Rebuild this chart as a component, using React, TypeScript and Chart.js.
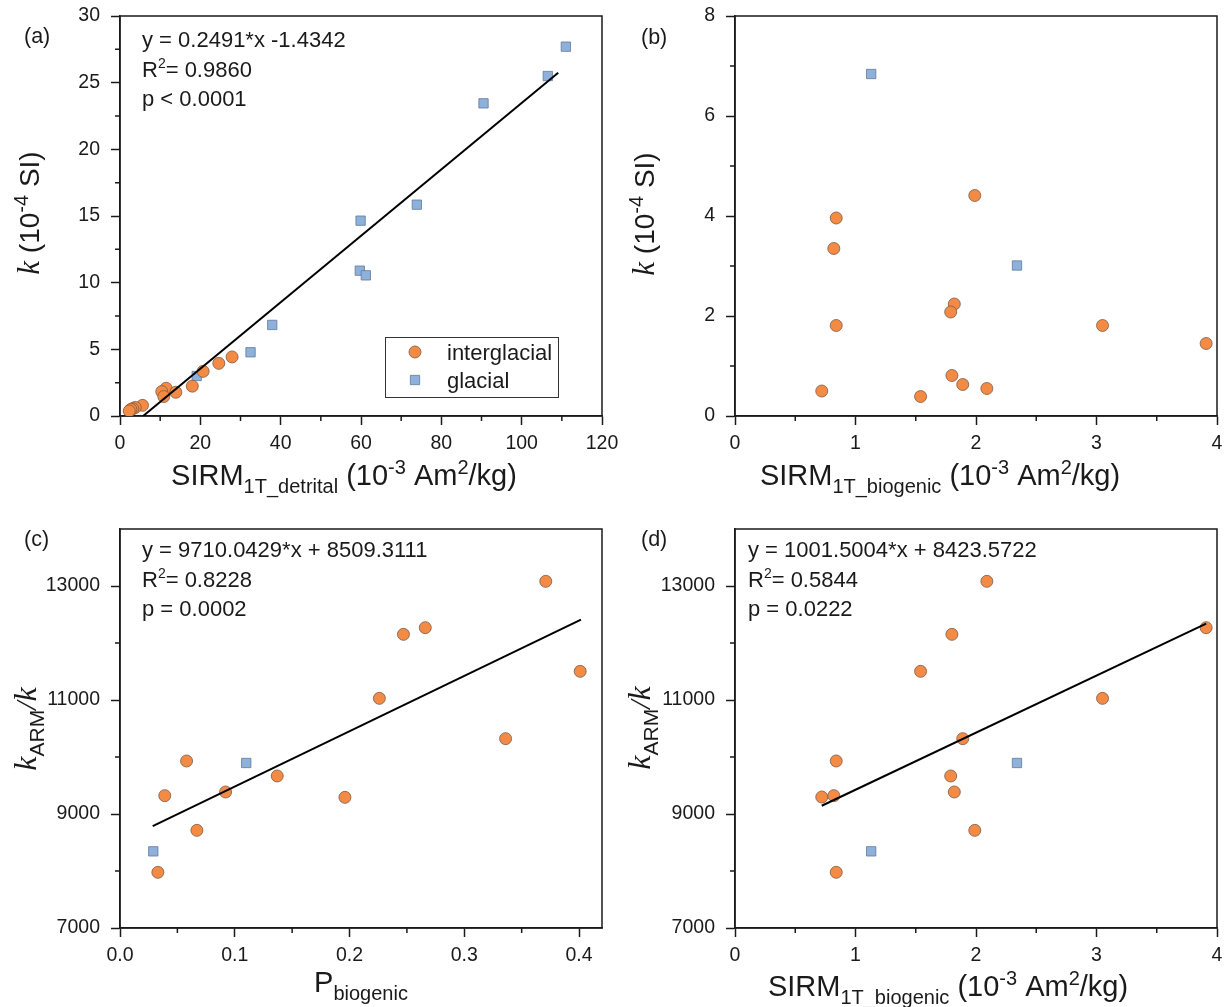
import React, { useEffect, useRef } from "react";
import { Chart, registerables } from "chart.js";

Chart.register(...registerables);

// ---------------- Data ----------------
// Panel (a): k (10^-4 SI) vs SIRM_1T_detrital
const aInterX = [27.9, 24.6, 20.7, 18.0, 11.5, 10.4, 13.9, 10.9, 5.6, 3.8, 3.2, 2.7, 2.3];
const aInterY = [4.43, 3.95, 3.35, 2.24, 2.08, 1.83, 1.78, 1.46, 0.8, 0.64, 0.55, 0.5, 0.38];
const aGlacX = [111.0, 106.5, 90.5, 73.9, 59.9, 59.7, 61.2, 37.9, 32.5, 19.1];
const aGlacY = [27.7, 25.5, 23.45, 15.85, 14.65, 10.9, 10.55, 6.83, 4.78, 3.0];
const aFitX = [5.76, 109.1];
const aFitY = [0.0, 25.74];

// Panel (b): k (10^-4 SI) vs SIRM_1T_biogenic
const bInterX = [1.99, 0.84, 0.82, 1.82, 1.79, 0.84, 3.05, 3.91, 1.8, 1.89, 2.09, 0.72, 1.54];
const bInterY = [4.41, 3.96, 3.35, 2.24, 2.08, 1.81, 1.81, 1.45, 0.81, 0.63, 0.55, 0.5, 0.39];
const bGlacX = [1.13, 2.34];
const bGlacY = [6.84, 3.01];

// Panel (c): kARM/k vs P_biogenic
const cInterX = [0.371, 0.266, 0.247, 0.401, 0.226, 0.336, 0.058, 0.137, 0.092, 0.039, 0.196, 0.067, 0.033];
const cInterY = [13082, 12269, 12152, 11503, 11029, 10322, 9930, 9667, 9386, 9322, 9292, 8713, 7977];
const cGlacX = [0.11, 0.029];
const cGlacY = [9895, 8345];
const cFitX = [0.0285, 0.4017];
const cFitY = [8786, 12410];

// Panel (d): kARM/k vs SIRM_1T_biogenic
const dInterX = [2.09, 3.91, 1.8, 1.54, 3.05, 1.89, 0.84, 1.79, 1.82, 0.72, 0.82, 1.99, 0.84];
const dInterY = [13082, 12269, 12152, 11503, 11029, 10322, 9930, 9667, 9386, 9298, 9322, 8713, 7977];
const dGlacX = [2.34, 1.13];
const dGlacY = [9895, 8345];
const dFitX = [0.72, 3.91];
const dFitY = [9145, 12340];

// Ticks
const aXTicks = [0, 20, 40, 60, 80, 100, 120];
const aXMinor = [10, 30, 50, 70, 90, 110];
const aYTicks = [0, 5, 10, 15, 20, 25, 30];
const aYMinor = [2.5, 7.5, 12.5, 17.5, 22.5, 27.5];
const bXTicks = [0, 1, 2, 3, 4];
const bXMinor = [0.5, 1.5, 2.5, 3.5];
const bYTicks = [0, 2, 4, 6, 8];
const bYMinor = [1, 3, 5, 7];
const cXTicks = [0, 0.1, 0.2, 0.3, 0.4];
const cXMinor = [0.05, 0.15, 0.25, 0.35];
const ratioTicks = [7000, 9000, 11000, 13000];
const ratioMinor = [8000, 10000, 12000];

// ---------------- Styles ----------------
const SANS = '"Liberation Sans", Arial, sans-serif';
const SERIF = '"Liberation Serif", "Times New Roman", serif';
const INK = "#1a1a1a";
const ORANGE = "#F48B45";
const ORANGE_EDGE = "#7a5a48";
const BLUE = "#8DB1DB";
const BLUE_EDGE = "#61799a";

type Seg = { t: string; size: number; dy?: number; italic?: boolean; serif?: boolean };

function segFont(s: Seg) {
  return `${s.italic ? "italic " : ""}${s.size}px ${s.serif ? SERIF : SANS}`;
}

function drawRich(ctx: CanvasRenderingContext2D, segs: Seg[], x: number, y: number, align: "left" | "center", rotate = false) {
  ctx.save();
  ctx.translate(x, y);
  if (rotate) ctx.rotate(-Math.PI / 2);
  ctx.textBaseline = "alphabetic";
  ctx.textAlign = "left";
  ctx.fillStyle = INK;
  let w = 0;
  for (const s of segs) {
    ctx.font = segFont(s);
    w += ctx.measureText(s.t).width;
  }
  let cx = align === "center" ? -w / 2 : 0;
  for (const s of segs) {
    ctx.font = segFont(s);
    ctx.fillText(s.t, cx, s.dy || 0);
    cx += ctx.measureText(s.t).width;
  }
  ctx.restore();
}

type TextItem = { segs: Seg[]; x: number; y: number; align: "left" | "center"; rotate?: boolean };

type PanelSpec = {
  left: number; top: number; w: number; h: number;
  padding: { left: number; top: number; right: number; bottom: number };
  yAxisW: number; xAxisH: number;
  xMin: number; xMax: number; yMin: number; yMax: number;
  xTicks: number[]; xMinor: number[]; yTicks: number[]; yMinor: number[];
  xFmt: (v: number) => string;
  interX: number[]; interY: number[]; glacX: number[]; glacY: number[];
  fitX?: number[]; fitY?: number[];
  texts: TextItem[];
  legend?: boolean;
};

const T = 22; // annotation size
const TT = 29; // title size
const TS = 20; // sub/sup size

const xTitleBio = (cx: number, y: number): TextItem => ({
  segs: [
    { t: "SIRM", size: TT },
    { t: "1T_biogenic", size: TS, dy: 8 },
    { t: " (10", size: TT },
    { t: "-3", size: TS, dy: -11 },
    { t: " Am", size: TT },
    { t: "2", size: TS, dy: -11 },
    { t: "/kg)", size: TT },
  ], x: cx, y, align: "center",
});

const yTitleK = (x: number, cy: number): TextItem => ({
  segs: [
    { t: "k", size: 31, italic: true, serif: true },
    { t: " (10", size: 28 },
    { t: "-4", size: TS, dy: -11 },
    { t: " SI)", size: 28 },
  ], x, y: cy, align: "center", rotate: true,
});

const yTitleRatio = (x: number, cy: number): TextItem => ({
  segs: [
    { t: "k", size: 32, italic: true, serif: true },
    { t: "ARM", size: 21, dy: 8 },
    { t: "/", size: 30, italic: true, serif: true },
    { t: "k", size: 32, italic: true, serif: true },
  ], x, y: cy, align: "center", rotate: true,
});

const eqLines = (x: number, y0: number, eq: string, r2: string, p: string): TextItem[] => [
  { segs: [{ t: eq, size: T }], x, y: y0, align: "left" },
  { segs: [{ t: "R", size: T }, { t: "2", size: 14, dy: -9 }, { t: "= " + r2, size: T }], x, y: y0 + 30, align: "left" },
  { segs: [{ t: p, size: T }], x, y: y0 + 59, align: "left" },
];

const fmtInt = (v: number) => String(v);
const fmt1 = (v: number) => v.toFixed(1);

const panels: PanelSpec[] = [
  {
    left: 0, top: 0, w: 640, h: 500,
    padding: { left: 0, top: 16, right: 38, bottom: 0 }, yAxisW: 120, xAxisH: 84,
    xMin: 0, xMax: 120, yMin: 0, yMax: 30,
    xTicks: aXTicks, xMinor: aXMinor, yTicks: aYTicks, yMinor: aYMinor, xFmt: fmtInt,
    interX: aInterX, interY: aInterY, glacX: aGlacX, glacY: aGlacY, fitX: aFitX, fitY: aFitY,
    legend: true,
    texts: [
      { segs: [{ t: "(a)", size: 21.5 }], x: 24, y: 43, align: "left" },
      ...eqLines(142, 47, "y = 0.2491*x -1.4342", "0.9860", "p < 0.0001"),
      {
        segs: [
          { t: "SIRM", size: TT },
          { t: "1T_detrital", size: TS, dy: 8 },
          { t: " (10", size: TT },
          { t: "-3", size: TS, dy: -11 },
          { t: " Am", size: TT },
          { t: "2", size: TS, dy: -11 },
          { t: "/kg)", size: TT },
        ], x: 344, y: 485, align: "center",
      },
      yTitleK(39, 213),
    ],
  },
  {
    left: 613, top: 0, w: 613, h: 500,
    padding: { left: 0, top: 16, right: 9, bottom: 0 }, yAxisW: 122, xAxisH: 84,
    xMin: 0, xMax: 4, yMin: 0, yMax: 8,
    xTicks: bXTicks, xMinor: bXMinor, yTicks: bYTicks, yMinor: bYMinor, xFmt: fmtInt,
    interX: bInterX, interY: bInterY, glacX: bGlacX, glacY: bGlacY,
    texts: [
      { segs: [{ t: "(b)", size: 21.5 }], x: 641, y: 44, align: "left" },
      xTitleBio(940, 485),
      yTitleK(654, 214),
    ],
  },
  {
    left: 0, top: 500, w: 640, h: 507,
    padding: { left: 0, top: 29, right: 38, bottom: 0 }, yAxisW: 120, xAxisH: 79,
    xMin: 0, xMax: 0.42, yMin: 7000, yMax: 14000,
    xTicks: cXTicks, xMinor: cXMinor, yTicks: ratioTicks, yMinor: ratioMinor, xFmt: fmt1,
    interX: cInterX, interY: cInterY, glacX: cGlacX, glacY: cGlacY, fitX: cFitX, fitY: cFitY,
    texts: [
      { segs: [{ t: "(c)", size: 21.5 }], x: 24, y: 546, align: "left" },
      ...eqLines(142, 557, "y = 9710.0429*x + 8509.3111", "0.8228", "p = 0.0002"),
      { segs: [{ t: "P", size: TT }, { t: "biogenic", size: TS, dy: 8 }], x: 361, y: 992, align: "center" },
      yTitleRatio(36, 729),
    ],
  },
  {
    left: 613, top: 500, w: 613, h: 507,
    padding: { left: 0, top: 29, right: 9, bottom: 0 }, yAxisW: 122, xAxisH: 79,
    xMin: 0, xMax: 4, yMin: 7000, yMax: 14000,
    xTicks: bXTicks, xMinor: bXMinor, yTicks: ratioTicks, yMinor: ratioMinor, xFmt: fmtInt,
    interX: dInterX, interY: dInterY, glacX: dGlacX, glacY: dGlacY, fitX: dFitX, fitY: dFitY,
    texts: [
      { segs: [{ t: "(d)", size: 21.5 }], x: 641, y: 546, align: "left" },
      ...eqLines(748, 557, "y = 1001.5004*x + 8423.5722", "0.5844", "p = 0.0222"),
      xTitleBio(948, 996),
      yTitleRatio(650, 728),
    ],
  },
];

const toPts = (xs: number[], ys: number[]) => xs.map((x, i) => ({ x, y: ys[i] }));

const CIRCLE_R = 6;
const SQUARE_R = 6.6;

function buildConfig(spec: PanelSpec): any {
  const datasets: any[] = [];
  if (spec.fitX && spec.fitY) {
    datasets.push({
      type: "line",
      label: "fit",
      data: toPts(spec.fitX, spec.fitY),
      borderColor: "#000",
      borderWidth: 2,
      pointRadius: 0,
      fill: false,
      showLine: true,
    });
  }
  datasets.push({
    label: "interglacial",
    data: toPts(spec.interX, spec.interY),
    pointStyle: "circle",
    pointRadius: CIRCLE_R,
    backgroundColor: ORANGE,
    borderColor: ORANGE_EDGE,
    borderWidth: 0.8,
  });
  datasets.push({
    label: "glacial",
    data: toPts(spec.glacX, spec.glacY),
    pointStyle: "rect",
    pointRadius: SQUARE_R,
    backgroundColor: BLUE,
    borderColor: BLUE_EDGE,
    borderWidth: 0.8,
  });

  const ox = spec.left, oy = spec.top;

  const decor = {
    id: "decor",
    beforeDatasetsDraw(chart: any) {
      const { ctx, chartArea: ca } = chart;
      const xs = chart.scales.x, ys = chart.scales.y;
      ctx.save();
      ctx.strokeStyle = INK;
      ctx.lineWidth = 1.5;
      ctx.strokeRect(ca.left, ca.top, ca.right - ca.left, ca.bottom - ca.top);
      ctx.beginPath();
      for (const v of spec.xMinor) {
        const px = xs.getPixelForValue(v);
        ctx.moveTo(px, ca.bottom);
        ctx.lineTo(px, ca.bottom + 5);
      }
      for (const v of spec.yMinor) {
        const py = ys.getPixelForValue(v);
        ctx.moveTo(ca.left - 5, py);
        ctx.lineTo(ca.left, py);
      }
      ctx.stroke();
      ctx.restore();
    },
    afterDraw(chart: any) {
      const { ctx } = chart;
      for (const it of spec.texts) {
        drawRich(ctx, it.segs, it.x - ox, it.y - oy, it.align, !!it.rotate);
      }
      if (spec.legend) {
        ctx.save();
        ctx.strokeStyle = "#333";
        ctx.lineWidth = 1;
        ctx.strokeRect(385.5 - ox, 337.5 - oy, 173, 60);
        ctx.beginPath();
        ctx.arc(415 - ox, 352 - oy, CIRCLE_R, 0, Math.PI * 2);
        ctx.fillStyle = ORANGE;
        ctx.fill();
        ctx.lineWidth = 0.8;
        ctx.strokeStyle = ORANGE_EDGE;
        ctx.stroke();
        const s = SQUARE_R * Math.SQRT1_2;
        ctx.beginPath();
        ctx.rect(415 - ox - s, 380 - oy - s, 2 * s, 2 * s);
        ctx.fillStyle = BLUE;
        ctx.fill();
        ctx.strokeStyle = BLUE_EDGE;
        ctx.stroke();
        ctx.restore();
        drawRich(ctx, [{ t: "interglacial", size: T }], 447 - ox, 360 - oy, "left");
        drawRich(ctx, [{ t: "glacial", size: T }], 447 - ox, 388 - oy, "left");
      }
    },
  };

  const gridOpts = {
    display: true,
    drawOnChartArea: false,
    drawTicks: true,
    tickLength: 9,
    tickColor: INK,
    tickWidth: 1.5,
    color: INK,
  };
  const borderOpts = { display: true, color: INK, width: 1.5 };
  const zeroPad = (s: any) => {
    s.paddingLeft = 0;
    s.paddingRight = 0;
    s.paddingTop = 0;
    s.paddingBottom = 0;
  };

  return {
    type: "scatter",
    data: { datasets },
    options: {
      responsive: false,
      maintainAspectRatio: false,
      animation: false,
      devicePixelRatio: 1,
      events: [],
      layout: { padding: spec.padding },
      plugins: { legend: { display: false }, tooltip: { enabled: false }, title: { display: false } },
      scales: {
        x: {
          type: "linear",
          position: "bottom",
          min: spec.xMin,
          max: spec.xMax,
          afterBuildTicks: (s: any) => { s.ticks = spec.xTicks.map((v) => ({ value: v })); },
          afterFit: (s: any) => { s.height = spec.xAxisH; zeroPad(s); },
          ticks: {
            autoSkip: false,
            maxRotation: 0,
            padding: 7,
            color: INK,
            font: { family: SANS, size: 19.5 },
            callback: (v: any) => spec.xFmt(Number(v)),
          },
          grid: gridOpts,
          border: borderOpts,
          title: { display: false },
        },
        y: {
          type: "linear",
          position: "left",
          min: spec.yMin,
          max: spec.yMax,
          afterBuildTicks: (s: any) => { s.ticks = spec.yTicks.map((v) => ({ value: v })); },
          afterFit: (s: any) => { s.width = spec.yAxisW; zeroPad(s); },
          ticks: {
            autoSkip: false,
            padding: 11,
            color: INK,
            font: { family: SANS, size: 19.5 },
            callback: (v: any) => String(v),
          },
          grid: gridOpts,
          border: borderOpts,
          title: { display: false },
        },
      },
    },
    plugins: [decor],
  };
}

function Panel({ spec }: { spec: PanelSpec }) {
  const ref = useRef<HTMLCanvasElement>(null);
  useEffect(() => {
    if (!ref.current) return;
    const chart = new Chart(ref.current, buildConfig(spec));
    return () => chart.destroy();
  }, [spec]);
  return (
    <canvas
      ref={ref}
      width={spec.w}
      height={spec.h}
      style={{ position: "absolute", left: spec.left, top: spec.top, width: spec.w, height: spec.h, display: "block" }}
    />
  );
}

export default function App() {
  return (
    <div style={{ position: "absolute", left: 0, top: 0, width: 1226, height: 1007, background: "#fff", overflow: "hidden" }}>
      {panels.map((p, i) => (
        <Panel key={i} spec={p} />
      ))}
    </div>
  );
}
